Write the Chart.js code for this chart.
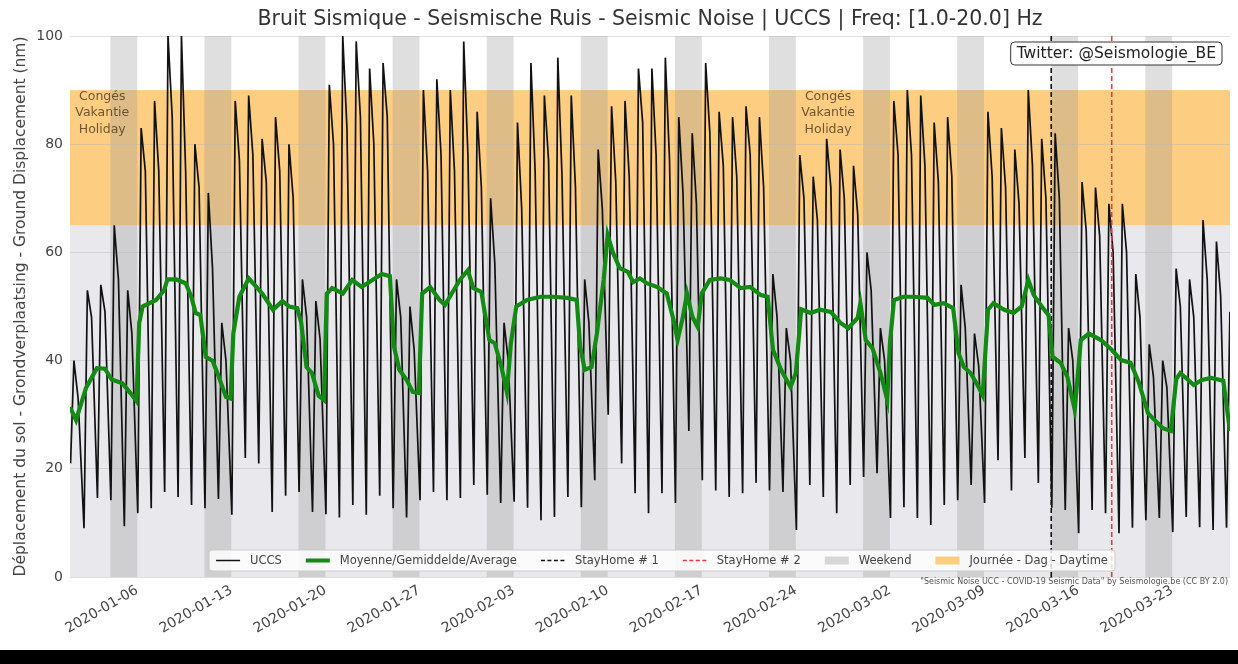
<!DOCTYPE html>
<html>
<head>
<meta charset="utf-8">
<title>Seismic Noise UCCS</title>
<script src="https://cdn.jsdelivr.net/npm/chart.js@4.4.0/dist/chart.umd.min.js"></script>
<style>
  html, body { margin: 0; padding: 0; background: #fff; }
  #wrap { width: 1238px; height: 664px; position: relative; overflow: hidden; }
  canvas { display: block; }
  #bar { position: absolute; left: 0; top: 650px; width: 1238px; height: 14px; background: #000; }
</style>
</head>
<body>
<div id="wrap">
  <canvas id="noiseChart" width="1238" height="650"></canvas>
  <div id="bar"></div>
</div>
<script>
// x values are days counted from 2020-01-01 00:00
const xMin = 0;
const xMax = 86.3;
const tickDays = [5, 12, 19, 26, 33, 40, 47, 54, 61, 68, 75, 82];
const tickLabels = ['2020-01-06', '2020-01-13', '2020-01-20', '2020-01-27', '2020-02-03', '2020-02-10',
    '2020-02-17', '2020-02-24', '2020-03-02', '2020-03-09', '2020-03-16', '2020-03-23'];
const yTicks = [0, 20, 40, 60, 80, 100];

// saturdays, each weekend span lasts 2 days
const weekendStarts = [3, 10, 17, 24, 31, 38, 45, 52, 59, 66, 73, 80];
const daytimeBand = [65, 90];
const lowerBand = [0, 65];
const stayHomeDays = [73, 77.5];
const holidayLabelDays = [2.4, 56.4];
const holidayLabelValue = 89;

// UCCS, three readings per day (hour of the day below)
const lowHour = 1;
const peakHour = 7;
const afternoonHour = 14.5;
const nightLows = [21, 9, 14.6, 14.2, 9.4, 11.8, 12.7, 15.7, 14.8, 13.3,
    12.7, 14.4, 11.5, 22, 21, 12, 15, 15.7, 12, 11.6,
    11, 13.3, 11.5, 15, 12.7, 11, 14.2, 15.7, 14.2, 14.6,
    17, 15.2, 13.7, 13.9, 12.8, 10.5, 11.1, 14.8, 12.9, 17.9,
    30, 21, 15.5, 11.8, 15.5, 13.7, 27, 17.9, 16, 14.8,
    15.5, 17.4, 16, 15.7, 8.7, 17, 14.8, 11.8, 17, 18.5,
    19.2, 10.9, 12.9, 10.9, 9.6, 13.3, 14.2, 17, 13.7, 21.6,
    16, 22, 17.4, 12.8, 12.4, 8.1, 12.4, 11.8, 8.1, 9.1,
    10.5, 10.9, 8.3, 11.1, 9.2, 8.7, 9.1];
const dayPeaks = [40, 53, 54, 65, 53, 83, 88, 100, 100, 80,
    71, 47, 88, 89, 81, 85, 80, 55, 51, 91,
    100, 99, 94, 95, 55, 50, 90, 92, 90, 99,
    86, 70, 47, 84, 95, 89, 96, 89, 55, 79,
    87, 88, 94, 94, 96, 85, 82, 95, 86, 85,
    87, 85, 56, 46, 78, 74, 81, 79, 76, 60,
    46, 88, 90, 89, 84, 85, 54, 45, 86, 83,
    79, 90, 81, 82, 46, 73, 72, 69, 69, 56,
    43, 40, 57, 55, 66, 62, 49];
const afternoonLevels = [33, 48, 49, 55, 45, 75, 75, 85, 75, 72,
    57, 40, 77, 78, 73, 75, 70, 48, 44, 80,
    83, 85, 80, 85, 48, 42, 75, 78, 75, 78,
    72, 58, 40, 68, 75, 77, 74, 72, 47, 68,
    73, 74, 84, 78, 77, 71, 69, 82, 76, 74,
    78, 72, 48, 40, 70, 66, 72, 70, 67, 53,
    40, 78, 78, 76, 73, 74, 46, 39, 74, 72,
    69, 76, 70, 70, 40, 64, 63, 60, 60, 48,
    37, 35, 50, 48, 55, 52, 42];

// moving average (green)
const avgDays = [0.0, 0.45, 1.2, 2.0, 2.6, 3.1, 3.9, 4.5, 4.95, 5.15, 5.4, 6.4, 7.0, 7.25, 7.9, 8.6, 9.0, 9.35, 9.7,
    10.1, 10.6, 11.0, 11.6, 11.95, 12.15, 12.6, 13.3, 14.3, 15.1, 15.8, 16.3, 16.9, 17.2, 17.6, 18.0, 18.5, 18.9,
    19.1, 19.5, 20.3, 21.0, 21.7, 22.5, 23.2, 23.8, 24.1, 24.5, 25.05, 25.5, 25.95, 26.2, 26.8, 27.5, 27.9, 28.4,
    29.0, 29.6, 30.0, 30.6, 31.2, 31.6, 32.1, 32.5, 32.8, 33.2, 34.0, 35.0, 35.9, 37.0, 37.7, 37.95, 38.3, 38.8,
    39.2, 39.7, 40.0, 40.4, 40.9, 41.5, 41.9, 42.4, 42.9, 43.7, 44.4, 44.9, 45.2, 45.6, 45.9, 46.3, 46.7, 47.0,
    47.6, 48.4, 49.1, 49.9, 50.6, 51.4, 51.9, 52.3, 52.9, 53.6, 54.0, 54.4, 55.1, 55.8, 56.6, 57.3, 57.9, 58.6,
    58.8, 59.2, 59.7, 60.3, 60.8, 61.0, 61.3, 62.0, 62.8, 63.8, 64.3, 65.0, 65.7, 66.1, 66.5, 67.0, 67.6, 67.9,
    68.3, 68.7, 69.5, 70.2, 70.8, 71.3, 71.7, 72.3, 72.8, 73.1, 73.7, 74.2, 74.75, 75.2, 75.8, 76.7, 77.5, 78.2,
    78.9, 79.5, 80.2, 80.7, 81.3, 81.9, 82.3, 82.6, 83.6, 84.2, 84.9, 85.8, 86.3];
const avgValues = [31.4, 29, 35, 38.6, 38.5, 36.5, 35.8, 34, 32.5, 47, 50, 51.2, 53, 55, 55, 54.3, 52, 48.8, 48.4,
    40.7, 40, 37.5, 33.3, 33, 45, 51.8, 55.2, 52.4, 49.4, 51, 50, 49.7, 47, 38.8, 37.7, 33.5, 32.7,
    52.4, 53.4, 52.4, 54.9, 53.6, 54.9, 56, 55.6, 42.6, 38.3, 36.4, 34.2, 34, 52.4, 53.6, 51.2, 50.3, 52.4,
    54.9, 56.7, 53.4, 52.7, 43.8, 43.2, 38.8, 34.2, 43.2, 50, 51.2, 51.8, 51.8, 51.6, 51.2, 42.6, 38.3, 38.8,
    45, 54.9, 63.2, 59.9, 57.1, 56.4, 54.5, 55.2, 54.3, 53.6, 52.4, 47.5, 43.8, 48.1, 52.4, 48.1, 46.2, 52.4,
    54.9, 55.2, 54.9, 53.4, 53.6, 52.1, 51.8, 42, 38.3, 35.1, 37.7, 49.5, 48.8, 49.4, 49, 47, 46, 47.9,
    50.6, 43.8, 42.3, 37.7, 32.7, 43.2, 51.2, 51.8, 51.8, 51.6, 50.3, 50.6, 49.7, 41.4, 38.8, 37.7, 35.1, 33.6,
    49.4, 50.6, 49.4, 48.8, 50, 54.9, 52.1, 50, 48.4, 40.7, 39.6, 37, 30.9, 43.8, 45, 43.8, 42, 40.1,
    39.6, 36.1, 30.3, 29, 27.5, 27, 36.6, 37.7, 35.5, 36.4, 36.8, 36.3, 27];

const chartTitle = 'Bruit Sismique - Seismische Ruis - Seismic Noise | UCCS | Freq: [1.0-20.0] Hz';

Chart.defaults.font.family = "'DejaVu Sans', 'Liberation Sans', sans-serif";
Chart.defaults.color = '#444';

// build the points
const uccsPoints = [];
for (let d = 0; d < nightLows.length; d++) {
    uccsPoints.push({ x: d + lowHour / 24, y: nightLows[d] });
    uccsPoints.push({ x: d + peakHour / 24, y: dayPeaks[d] });
    uccsPoints.push({ x: d + afternoonHour / 24, y: afternoonLevels[d] });
}
const avgPoints = avgDays.map((t, i) => ({ x: t, y: avgValues[i] }));
const verticalLine = (day) => [{ x: day, y: 0 }, { x: day, y: 100 }];

// horizontal bands and weekend spans, painted before grid and lines
const backgroundBands = {
    id: 'backgroundBands',
    beforeDraw(chart) {
        const { ctx, chartArea: a, scales: { x, y } } = chart;
        ctx.save();
        ctx.beginPath();
        ctx.rect(a.left, a.top, a.width, a.height);
        ctx.clip();
        ctx.fillStyle = '#fff';
        ctx.fillRect(a.left, a.top, a.width, a.height);

        const hband = (range, color) => {
            const y0 = y.getPixelForValue(range[1]);
            const y1 = y.getPixelForValue(range[0]);
            ctx.fillStyle = color;
            ctx.fillRect(a.left, y0, a.width, y1 - y0);
        };
        hband(lowerBand, 'rgb(233,233,237)');
        hband(daytimeBand, 'rgb(253,205,130)');

        ctx.fillStyle = 'rgba(150,150,150,0.3)';
        weekendStarts.forEach((d) => {
            const x0 = x.getPixelForValue(d);
            const x1 = x.getPixelForValue(d + 2);
            ctx.fillRect(x0, a.top, x1 - x0, a.height);
        });
        ctx.restore();
    }
};

// legend, twitter box, holiday labels and credit line
const legendItems = [
    { text: 'UCCS', kind: 'line', color: '#111', width: 1.5 },
    { text: 'Moyenne/Gemiddelde/Average', kind: 'line', color: '#138a13', width: 4 },
    { text: 'StayHome # 1', kind: 'dash', color: '#111', width: 1.5 },
    { text: 'StayHome # 2', kind: 'dash', color: '#e23b45', width: 1.5 },
    { text: 'Weekend', kind: 'box', color: 'rgb(215,215,215)' },
    { text: 'Journée - Dag - Daytime', kind: 'box', color: 'rgb(253,205,130)' }
];

const roundRect = (ctx, x, y, w, h, r) => {
    ctx.beginPath();
    ctx.moveTo(x + r, y);
    ctx.lineTo(x + w - r, y);
    ctx.quadraticCurveTo(x + w, y, x + w, y + r);
    ctx.lineTo(x + w, y + h - r);
    ctx.quadraticCurveTo(x + w, y + h, x + w - r, y + h);
    ctx.lineTo(x + r, y + h);
    ctx.quadraticCurveTo(x, y + h, x, y + h - r);
    ctx.lineTo(x, y + r);
    ctx.quadraticCurveTo(x, y, x + r, y);
    ctx.closePath();
};

const overlayText = {
    id: 'overlayText',
    afterDraw(chart) {
        const { ctx, chartArea: a, scales: { x, y } } = chart;
        ctx.save();

        // title, centred over the plot
        ctx.font = "20.5px 'DejaVu Sans'";
        ctx.fillStyle = '#333';
        ctx.textAlign = 'center';
        ctx.textBaseline = 'middle';
        ctx.fillText(chartTitle, (a.left + a.right) / 2, 20);

        // holiday labels
        ctx.font = "12.5px 'DejaVu Sans'";
        ctx.fillStyle = 'rgba(70,52,25,0.78)';
        holidayLabelDays.forEach((d) => {
            const cx = x.getPixelForValue(d);
            const cy = y.getPixelForValue(holidayLabelValue);
            ['Congés', 'Vakantie', 'Holiday'].forEach((s, i) => ctx.fillText(s, cx, cy + 1 + i * 16.5));
        });

        // twitter box
        ctx.font = "15.5px 'DejaVu Sans'";
        const tw = ctx.measureText('Twitter: @Seismologie_BE').width;
        const bw = tw + 12;
        const bx = a.right - 8 - bw;
        const by = a.top + 6;
        roundRect(ctx, bx, by, bw, 23, 4);
        ctx.fillStyle = '#fff';
        ctx.fill();
        ctx.strokeStyle = '#333';
        ctx.lineWidth = 1;
        ctx.stroke();
        ctx.fillStyle = '#222';
        ctx.textAlign = 'left';
        ctx.fillText('Twitter: @Seismologie_BE', bx + 6, by + 12);

        // legend
        ctx.font = "11.5px 'DejaVu Sans'";
        const handleW = 24, pad = 10, gap = 24, boxPad = 7;
        let total = boxPad * 2;
        legendItems.forEach((it, i) => {
            total += handleW + pad + ctx.measureText(it.text).width + (i ? gap : 0);
        });
        const lx = (a.left + a.right) / 2 + 12 - total / 2;
        const lt = a.bottom - 27;
        const lh = 21;
        const my = lt + lh / 2;
        roundRect(ctx, lx, lt, total, lh, 3);
        ctx.fillStyle = 'rgba(255,255,255,0.82)';
        ctx.fill();
        ctx.strokeStyle = 'rgba(200,200,200,0.9)';
        ctx.stroke();
        let cx = lx + boxPad;
        legendItems.forEach((it) => {
            if (it.kind === 'box') {
                ctx.fillStyle = it.color;
                ctx.fillRect(cx, my - 4, handleW, 8);
            } else {
                ctx.beginPath();
                ctx.setLineDash(it.kind === 'dash' ? [4, 2.5] : []);
                ctx.strokeStyle = it.color;
                ctx.lineWidth = it.width;
                ctx.moveTo(cx, my);
                ctx.lineTo(cx + handleW, my);
                ctx.stroke();
                ctx.setLineDash([]);
            }
            cx += handleW + pad;
            ctx.fillStyle = '#444';
            ctx.fillText(it.text, cx, my + 0.5);
            cx += ctx.measureText(it.text).width + gap;
        });

        // credit line
        ctx.font = "8px 'DejaVu Sans'";
        ctx.fillStyle = '#555';
        ctx.textAlign = 'right';
        ctx.fillText('"Seismic Noise UCC - COVID-19 Seismic Data" by Seismologie.be (CC BY 2.0)', a.right - 2, a.bottom + 5);
        ctx.restore();
    }
};

const ctx = document.getElementById('noiseChart');

new Chart(ctx, {
    type: 'line',
    data: {
        datasets: [
            { label: 'Moyenne/Gemiddelde/Average', data: avgPoints, borderColor: '#138a13', borderWidth: 4.2, order: 0 },
            { label: 'StayHome # 1', data: verticalLine(stayHomeDays[0]), borderColor: '#111', borderWidth: 1.6, borderDash: [5, 3], order: 1 },
            { label: 'StayHome # 2', data: verticalLine(stayHomeDays[1]), borderColor: '#e23b45', borderWidth: 1.6, borderDash: [5, 3], order: 1 },
            { label: 'UCCS', data: uccsPoints, borderColor: '#111', borderWidth: 1.7, order: 2 }
        ]
    },
    options: {
        responsive: false,
        animation: false,
        elements: {
            point: { radius: 0 },
            line: { tension: 0, fill: false }
        },
        layout: { padding: { top: 36, right: 8 } },
        plugins: {
            legend: { display: false },
            tooltip: { enabled: false },
            title: { display: false }
        },
        scales: {
            x: {
                type: 'linear',
                min: xMin,
                max: xMax,
                afterBuildTicks: (scale) => { scale.ticks = tickDays.map((v) => ({ value: v })); },
                afterFit: (scale) => { scale.height = 73; },
                grid: { display: false },
                border: { display: false },
                ticks: {
                    autoSkip: false,
                    maxRotation: 30,
                    minRotation: 30,
                    padding: -3,
                    color: '#444',
                    font: { size: 14 },
                    callback: (value, index) => tickLabels[index]
                }
            },
            y: {
                min: 0,
                max: 100,
                afterBuildTicks: (scale) => { scale.ticks = yTicks.map((v) => ({ value: v })); },
                afterFit: (scale) => { scale.width = 70; },
                grid: { color: 'rgba(185,185,185,0.45)', drawTicks: false },
                border: { display: false },
                ticks: { padding: 7, color: '#444', font: { size: 14 } },
                title: {
                    display: true,
                    text: 'Déplacement du sol - Grondverplaatsing - Ground Displacement (nm)',
                    color: '#444',
                    font: { size: 15.5 },
                    padding: { top: 12, bottom: 0 }
                }
            }
        }
    },
    plugins: [backgroundBands, overlayText]
});
</script>
</body>
</html>
